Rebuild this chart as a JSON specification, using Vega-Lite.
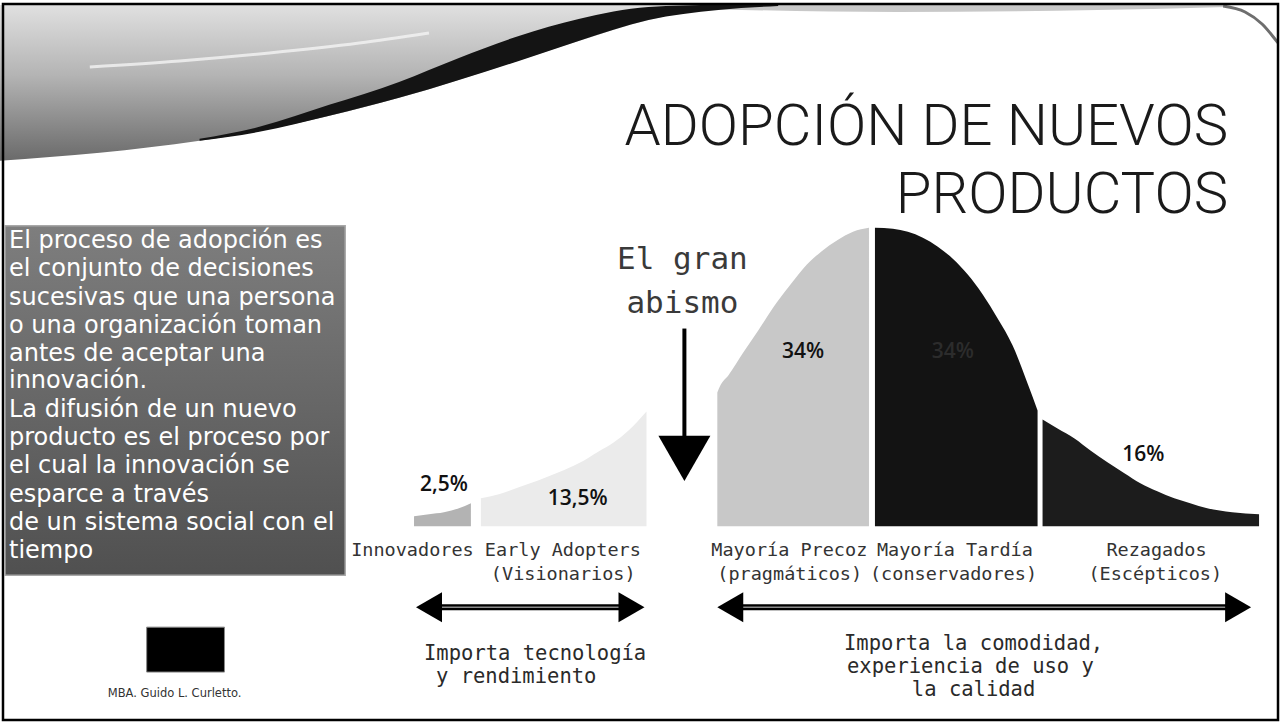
{
  "$schema": "https://vega.github.io/schema/vega-lite/v6.json",
  "width": 1284,
  "height": 723,
  "autosize": {"type": "fit", "contains": "padding"},
  "padding": 0,
  "background": "#ffffff",
  "config": {"view": {"stroke": null}},
  "datasets": {
    "swoosh": [
      {"x": 0, "y": 4, "y2": 160}, {"x": 100, "y": 4, "y2": 152}, {"x": 200, "y": 4, "y2": 140},
      {"x": 300, "y": 4, "y2": 122}, {"x": 400, "y": 4, "y2": 97}, {"x": 500, "y": 4, "y2": 66},
      {"x": 580, "y": 4, "y2": 40}, {"x": 650, "y": 4, "y2": 19}, {"x": 720, "y": 4, "y2": 8},
      {"x": 780, "y": 4, "y2": 5}
    ],
    "swooshDark": [
      {"x": 200, "y": 138, "y2": 140}, {"x": 260, "y": 126, "y2": 131}, {"x": 330, "y": 104, "y2": 115},
      {"x": 400, "y": 81, "y2": 97}, {"x": 460, "y": 57, "y2": 79}, {"x": 520, "y": 35, "y2": 60},
      {"x": 580, "y": 18, "y2": 40}, {"x": 650, "y": 6, "y2": 19}, {"x": 720, "y": 4, "y2": 9},
      {"x": 780, "y": 4, "y2": 5}
    ],
    "streak": [
      {"x": 90, "y": 66}, {"x": 180, "y": 60}, {"x": 270, "y": 52}, {"x": 360, "y": 42}, {"x": 430, "y": 32}
    ],
    "lightTop": [
      {"x": 700, "y": 4, "y2": 8}, {"x": 900, "y": 4, "y2": 11}, {"x": 1100, "y": 4, "y2": 9}, {"x": 1230, "y": 4, "y2": 6}
    ],
    "curl": [
      {"x": 1226, "y": 5}, {"x": 1248, "y": 11}, {"x": 1265, "y": 23}, {"x": 1281, "y": 42}
    ],
    "frame": [{"x": 3, "x2": 1281, "y": 3, "y2": 720}],
    "box": [{"x": 5, "x2": 346, "y": 225, "y2": 575}],
    "boxText": [
      {"x": 9, "y": 247, "t": "El proceso de adopción es"},
      {"x": 9, "y": 275, "t": "el conjunto de decisiones"},
      {"x": 9, "y": 304, "t": "sucesivas que una persona"},
      {"x": 9, "y": 332, "t": "o una organización toman"},
      {"x": 9, "y": 360, "t": "antes de aceptar una"},
      {"x": 9, "y": 388, "t": "innovación."},
      {"x": 9, "y": 417, "t": "La difusión de un nuevo"},
      {"x": 9, "y": 445, "t": "producto es el proceso por"},
      {"x": 9, "y": 473, "t": "el cual la innovación se"},
      {"x": 9, "y": 502, "t": "esparce a través"},
      {"x": 9, "y": 530, "t": "de un sistema social con el"},
      {"x": 9, "y": 558, "t": "tiempo"}
    ],
    "title": [
      {"x": 1231, "y": 144, "t": "ADOPCIÓN DE NUEVOS"},
      {"x": 1231, "y": 212, "t": "PRODUCTOS"}
    ],
    "curve": [
      {"seg": "inn", "x": 415, "y": 516}, {"seg": "inn", "x": 430, "y": 514}, {"seg": "inn", "x": 445, "y": 512},
      {"seg": "inn", "x": 460, "y": 508}, {"seg": "inn", "x": 472, "y": 503},
      {"seg": "ea", "x": 482, "y": 498}, {"seg": "ea", "x": 500, "y": 494}, {"seg": "ea", "x": 520, "y": 487},
      {"seg": "ea", "x": 540, "y": 480}, {"seg": "ea", "x": 560, "y": 472}, {"seg": "ea", "x": 580, "y": 463},
      {"seg": "ea", "x": 600, "y": 451}, {"seg": "ea", "x": 615, "y": 442}, {"seg": "ea", "x": 630, "y": 430},
      {"seg": "ea", "x": 648, "y": 411},
      {"seg": "em", "x": 719, "y": 392}, {"seg": "em", "x": 722, "y": 385}, {"seg": "em", "x": 730, "y": 375},
      {"seg": "em", "x": 745, "y": 352}, {"seg": "em", "x": 760, "y": 330}, {"seg": "em", "x": 775, "y": 307},
      {"seg": "em", "x": 790, "y": 287}, {"seg": "em", "x": 805, "y": 268}, {"seg": "em", "x": 823, "y": 251},
      {"seg": "em", "x": 840, "y": 239}, {"seg": "em", "x": 855, "y": 231}, {"seg": "em", "x": 871, "y": 227},
      {"seg": "lm", "x": 877, "y": 227}, {"seg": "lm", "x": 895, "y": 228}, {"seg": "lm", "x": 910, "y": 231},
      {"seg": "lm", "x": 925, "y": 237}, {"seg": "lm", "x": 940, "y": 246}, {"seg": "lm", "x": 955, "y": 258},
      {"seg": "lm", "x": 970, "y": 274}, {"seg": "lm", "x": 985, "y": 294}, {"seg": "lm", "x": 1000, "y": 318},
      {"seg": "lm", "x": 1015, "y": 345}, {"seg": "lm", "x": 1030, "y": 383}, {"seg": "lm", "x": 1040, "y": 410},
      {"seg": "lg", "x": 1045, "y": 419}, {"seg": "lg", "x": 1060, "y": 428}, {"seg": "lg", "x": 1077, "y": 438},
      {"seg": "lg", "x": 1093, "y": 450}, {"seg": "lg", "x": 1110, "y": 462}, {"seg": "lg", "x": 1127, "y": 473},
      {"seg": "lg", "x": 1143, "y": 483}, {"seg": "lg", "x": 1160, "y": 491}, {"seg": "lg", "x": 1177, "y": 498},
      {"seg": "lg", "x": 1193, "y": 503}, {"seg": "lg", "x": 1210, "y": 508}, {"seg": "lg", "x": 1235, "y": 512},
      {"seg": "lg", "x": 1262, "y": 514}
    ],
    "pct": [
      {"x": 445, "y": 485, "t": "2,5%"},
      {"x": 579, "y": 499, "t": "13,5%"},
      {"x": 805, "y": 351, "t": "34%"},
      {"x": 1146, "y": 455, "t": "16%"}
    ],
    "pctDark": [{"x": 955, "y": 351, "t": "34%"}],
    "abismo": [
      {"x": 684, "y": 268, "t": "El gran"},
      {"x": 684, "y": 312, "t": "abismo"}
    ],
    "shaftV": [{"x": 686, "y": 328, "y2": 450}],
    "headDown": [{"x": 686, "y": 458}],
    "shaftH": [
      {"x": 428, "x2": 635, "y": 607},
      {"x": 730, "x2": 1243, "y": 607}
    ],
    "headLeft": [{"x": 430, "y": 607}, {"x": 732, "y": 607}],
    "headRight": [{"x": 633, "y": 607}, {"x": 1241, "y": 607}],
    "labels": [
      {"x": 352, "y": 556, "t": "Innovadores"},
      {"x": 486, "y": 556, "t": "Early Adopters"},
      {"x": 492, "y": 580, "t": "(Visionarios)"},
      {"x": 713, "y": 556, "t": "Mayoría Precoz"},
      {"x": 719, "y": 580, "t": "(pragmáticos)"},
      {"x": 879, "y": 556, "t": "Mayoría Tardía"},
      {"x": 872, "y": 580, "t": "(conservadores)"},
      {"x": 1109, "y": 556, "t": "Rezagados"},
      {"x": 1091, "y": 580, "t": "(Escépticos)"}
    ],
    "importa": [
      {"x": 425, "y": 660, "t": "Importa tecnología"},
      {"x": 437, "y": 683, "t": "y rendimiento"},
      {"x": 846, "y": 650, "t": "Importa la comodidad,"},
      {"x": 849, "y": 673, "t": "experiencia de uso y"},
      {"x": 914, "y": 696, "t": "la calidad"}
    ],
    "logo": [{"x": 147, "x2": 225, "y": 627, "y2": 672}],
    "author": [{"x": 175, "y": 697, "t": "MBA. Guido L. Curletto."}]
  },
  "encoding": {
    "x": {"field": "x", "type": "quantitative", "scale": {"domain": [0, 1284], "nice": false, "zero": false}, "axis": null},
    "y": {"field": "y", "type": "quantitative", "scale": {"domain": [0, 723], "nice": false, "zero": false, "reverse": true}, "axis": null}
  },
  "layer": [
    {
      "data": {"name": "swoosh"},
      "mark": {"type": "area", "interpolate": "monotone", "color": {"gradient": "linear", "x1": 0, "y1": 0, "x2": 0, "y2": 1, "stops": [{"offset": 0, "color": "#e0e0e0"}, {"offset": 0.45, "color": "#b4b4b4"}, {"offset": 1, "color": "#6a6a6a"}]}},
      "encoding": {"y2": {"field": "y2"}}
    },
    {
      "data": {"name": "lightTop"},
      "mark": {"type": "area", "interpolate": "monotone", "color": "#c8c8c8"},
      "encoding": {"y2": {"field": "y2"}}
    },
    {
      "data": {"name": "streak"},
      "mark": {"type": "line", "interpolate": "monotone", "color": "#f4f4f4", "strokeWidth": 3, "opacity": 0.8},
      "encoding": {}
    },
    {
      "data": {"name": "swooshDark"},
      "mark": {"type": "area", "interpolate": "monotone", "color": "#141414"},
      "encoding": {"y2": {"field": "y2"}}
    },
    {
      "data": {"name": "curl"},
      "mark": {"type": "line", "interpolate": "monotone", "color": "#6e6e6e", "strokeWidth": 3},
      "encoding": {}
    },
    {
      "data": {"name": "frame"},
      "mark": {"type": "rect", "filled": false, "stroke": "#000000", "strokeWidth": 2.5},
      "encoding": {"x2": {"field": "x2"}, "y2": {"field": "y2"}}
    },
    {
      "data": {"name": "box"},
      "mark": {"type": "rect", "stroke": "#a8a8a8", "strokeWidth": 1.5, "color": {"gradient": "linear", "x1": 0, "y1": 0, "x2": 0, "y2": 1, "stops": [{"offset": 0, "color": "#7e7e7e"}, {"offset": 1, "color": "#505050"}]}},
      "encoding": {"x2": {"field": "x2"}, "y2": {"field": "y2"}}
    },
    {
      "data": {"name": "boxText"},
      "mark": {"type": "text", "align": "left", "baseline": "alphabetic", "font": "DejaVu Sans", "fontSize": 24, "color": "#ffffff"},
      "encoding": {"text": {"field": "t"}}
    },
    {
      "data": {"name": "title"},
      "mark": {"type": "text", "align": "right", "baseline": "alphabetic", "font": "Roboto", "fontWeight": 300, "fontSize": 58, "color": "#1a1a1a"},
      "encoding": {"text": {"field": "t"}}
    },
    {
      "data": {"name": "curve"},
      "mark": {"type": "area", "interpolate": "monotone"},
      "encoding": {
        "y2": {"datum": 526},
        "color": {"field": "seg", "type": "nominal", "legend": null, "scale": {"domain": ["inn", "ea", "em", "lm", "lg"], "range": ["#b3b3b3", "#ebebeb", "#c8c8c8", "#131313", "#1c1c1c"]}}
      }
    },
    {
      "data": {"name": "pct"},
      "mark": {"type": "text", "align": "center", "baseline": "middle", "font": "Open Sans", "fontWeight": 600, "fontSize": 21, "color": "#111111"},
      "encoding": {"text": {"field": "t"}}
    },
    {
      "data": {"name": "pctDark"},
      "mark": {"type": "text", "align": "center", "baseline": "middle", "font": "Open Sans", "fontWeight": 600, "fontSize": 21, "color": "#2c2c2c"},
      "encoding": {"text": {"field": "t"}}
    },
    {
      "data": {"name": "abismo"},
      "mark": {"type": "text", "align": "center", "baseline": "alphabetic", "font": "DejaVu Sans Mono", "fontSize": 31, "color": "#3a3a3a"},
      "encoding": {"text": {"field": "t"}}
    },
    {
      "data": {"name": "shaftV"},
      "mark": {"type": "rule", "color": "#000000", "strokeWidth": 4},
      "encoding": {"y2": {"field": "y2"}}
    },
    {
      "data": {"name": "headDown"},
      "mark": {"type": "point", "shape": "triangle-down", "size": 2704, "filled": true, "color": "#000000", "opacity": 1, "strokeWidth": 0},
      "encoding": {}
    },
    {
      "data": {"name": "shaftH"},
      "mark": {"type": "rule", "color": "#000000", "strokeWidth": 6},
      "encoding": {"x2": {"field": "x2"}}
    },
    {
      "data": {"name": "shaftH"},
      "mark": {"type": "rule", "color": "#8c8c8c", "strokeWidth": 1.5},
      "encoding": {"x2": {"field": "x2"}}
    },
    {
      "data": {"name": "headLeft"},
      "mark": {"type": "point", "shape": "triangle-left", "size": 900, "filled": true, "color": "#000000", "opacity": 1, "strokeWidth": 0},
      "encoding": {}
    },
    {
      "data": {"name": "headRight"},
      "mark": {"type": "point", "shape": "triangle-right", "size": 900, "filled": true, "color": "#000000", "opacity": 1, "strokeWidth": 0},
      "encoding": {}
    },
    {
      "data": {"name": "labels"},
      "mark": {"type": "text", "align": "left", "baseline": "alphabetic", "font": "DejaVu Sans Mono", "fontSize": 18.5, "color": "#333333"},
      "encoding": {"text": {"field": "t"}}
    },
    {
      "data": {"name": "importa"},
      "mark": {"type": "text", "align": "left", "baseline": "alphabetic", "font": "DejaVu Sans Mono", "fontSize": 20.5, "color": "#2a2a2a"},
      "encoding": {"text": {"field": "t"}}
    },
    {
      "data": {"name": "logo"},
      "mark": {"type": "rect", "color": "#000000", "stroke": "#888888", "strokeWidth": 1},
      "encoding": {"x2": {"field": "x2"}, "y2": {"field": "y2"}}
    },
    {
      "data": {"name": "author"},
      "mark": {"type": "text", "align": "center", "baseline": "alphabetic", "font": "DejaVu Sans", "fontSize": 11.5, "color": "#333333"},
      "encoding": {"text": {"field": "t"}}
    }
  ]
}
